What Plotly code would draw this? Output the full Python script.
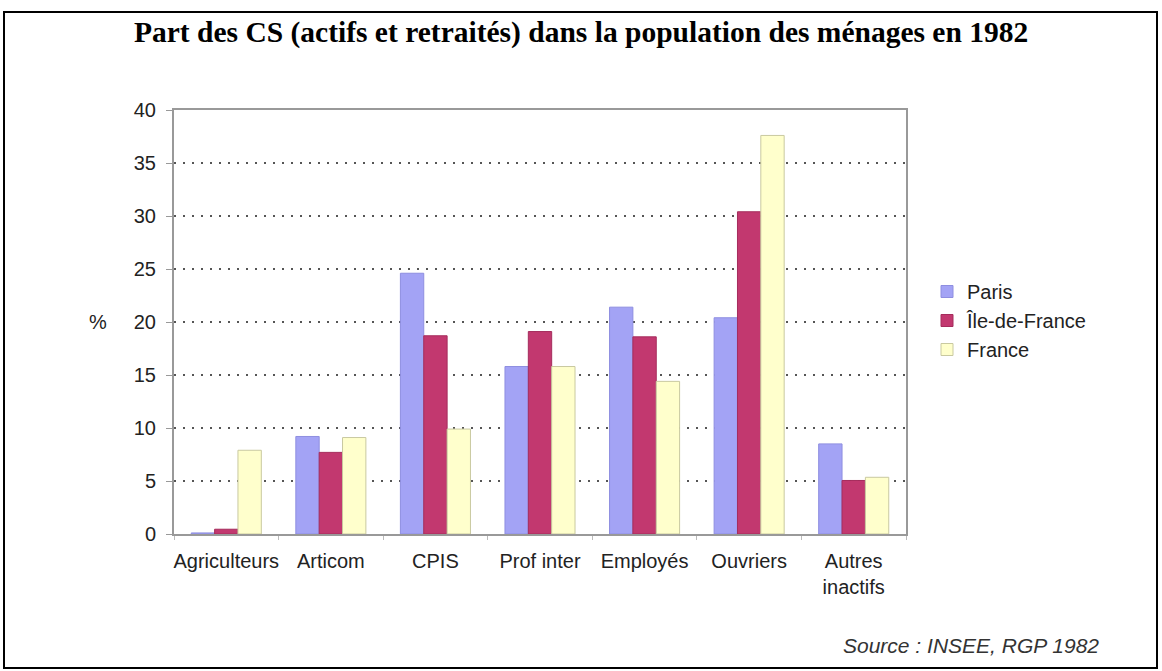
import plotly.graph_objects as go

categories = ["Agriculteurs", "Articom", "CPIS", "Prof inter", "Employés", "Ouvriers", "Autres<br>inactifs"]
paris = [0.1, 9.2, 24.6, 15.8, 21.4, 20.4, 8.5]
idf = [0.45, 7.7, 18.7, 19.1, 18.6, 30.4, 5.05]
france = [7.9, 9.1, 9.9, 15.8, 14.4, 37.6, 5.35]
series_names = ["Paris", "Île-de-France", "France"]
colors = ["#A3A3F5", "#C2386F", "#FFFFCC"]
edge_colors = ["#8E8EE0", "#A52C5C", "#C9C9A0"]
y_ticks = [0, 5, 10, 15, 20, 25, 30, 35, 40]

W, H = 1162, 671
L, R, T, B = 174, 906, 110, 534
pw, ph = R - L, B - T

def px_x(x):
    return (x - L) / pw

def px_y(y):
    return (B - y) / ph

fig = go.Figure()
for i, (name, vals) in enumerate(zip(series_names, [paris, idf, france])):
    fig.add_trace(go.Bar(
        x=categories, y=vals, name=name,
        marker=dict(color=colors[i], line=dict(color=edge_colors[i], width=1)),
        legendgroup=name,
    ))

font_sans = "Liberation Sans, Arial, sans-serif"

fig.update_layout(
    width=W, height=H,
    margin=dict(l=L, r=W - R, t=T, b=H - B),
    paper_bgcolor="white", plot_bgcolor="white",
    barmode="group", bargap=0.33, bargroupgap=0,
    showlegend=True,
    legend=dict(
        x=px_x(927), y=px_y(272), xanchor="left", yanchor="top",
        font=dict(family=font_sans, size=20, color="#222"),
        traceorder="grouped", tracegroupgap=0,
        bgcolor="rgba(0,0,0,0)", itemwidth=30,
    ),
    font=dict(family=font_sans, size=20, color="#222"),
)

fig.update_yaxes(
    range=[0, 40], tickvals=y_ticks, ticktext=[str(v) for v in y_ticks],
    showgrid=True, gridcolor="#555", gridwidth=2, griddash="2px,7px",
    showline=True, linecolor="#999", linewidth=2, mirror=True,
    ticks="outside", ticklen=6, tickcolor="#999", tickwidth=1,
    ticklabelstandoff=6,
    tickfont=dict(family=font_sans, size=20, color="#222"),
    zeroline=False,
)
fig.update_xaxes(
    showline=True, linecolor="#999", linewidth=2, mirror=True,
    ticks="outside", tickson="boundaries", ticklen=4, tickcolor="#bbb",
    ticklabelstandoff=8, tickangle=0,
    tickfont=dict(family=font_sans, size=20, color="#222"),
    showgrid=False,
)

# outer frame
fig.add_shape(type="rect", xref="paper", yref="paper",
              x0=px_x(4), x1=px_x(1157), y0=px_y(668), y1=px_y(12),
              line=dict(color="black", width=2), layer="below")

fig.add_annotation(
    text="<b>Part des CS (actifs et retraités) dans la population des ménages en 1982</b>",
    xref="paper", yref="paper", x=px_x(581), y=px_y(32),
    xanchor="center", yanchor="middle", showarrow=False,
    font=dict(family="Liberation Serif, Times New Roman, serif", size=29.5, color="black"),
)
fig.add_annotation(
    text="%", xref="paper", yref="paper", x=px_x(98), y=px_y(322),
    xanchor="center", yanchor="middle", showarrow=False,
    font=dict(family=font_sans, size=20, color="#222"),
)
fig.add_annotation(
    text="<i>Source : INSEE, RGP 1982</i>", xref="paper", yref="paper",
    x=px_x(1101), y=px_y(645), xanchor="right", yanchor="middle", showarrow=False,
    font=dict(family=font_sans, size=21, color="#333"),
)

fig.write_html("out.html", config={"displayModeBar": False},
               post_script="document.body.style.margin='0';document.body.style.overflow='hidden';")
